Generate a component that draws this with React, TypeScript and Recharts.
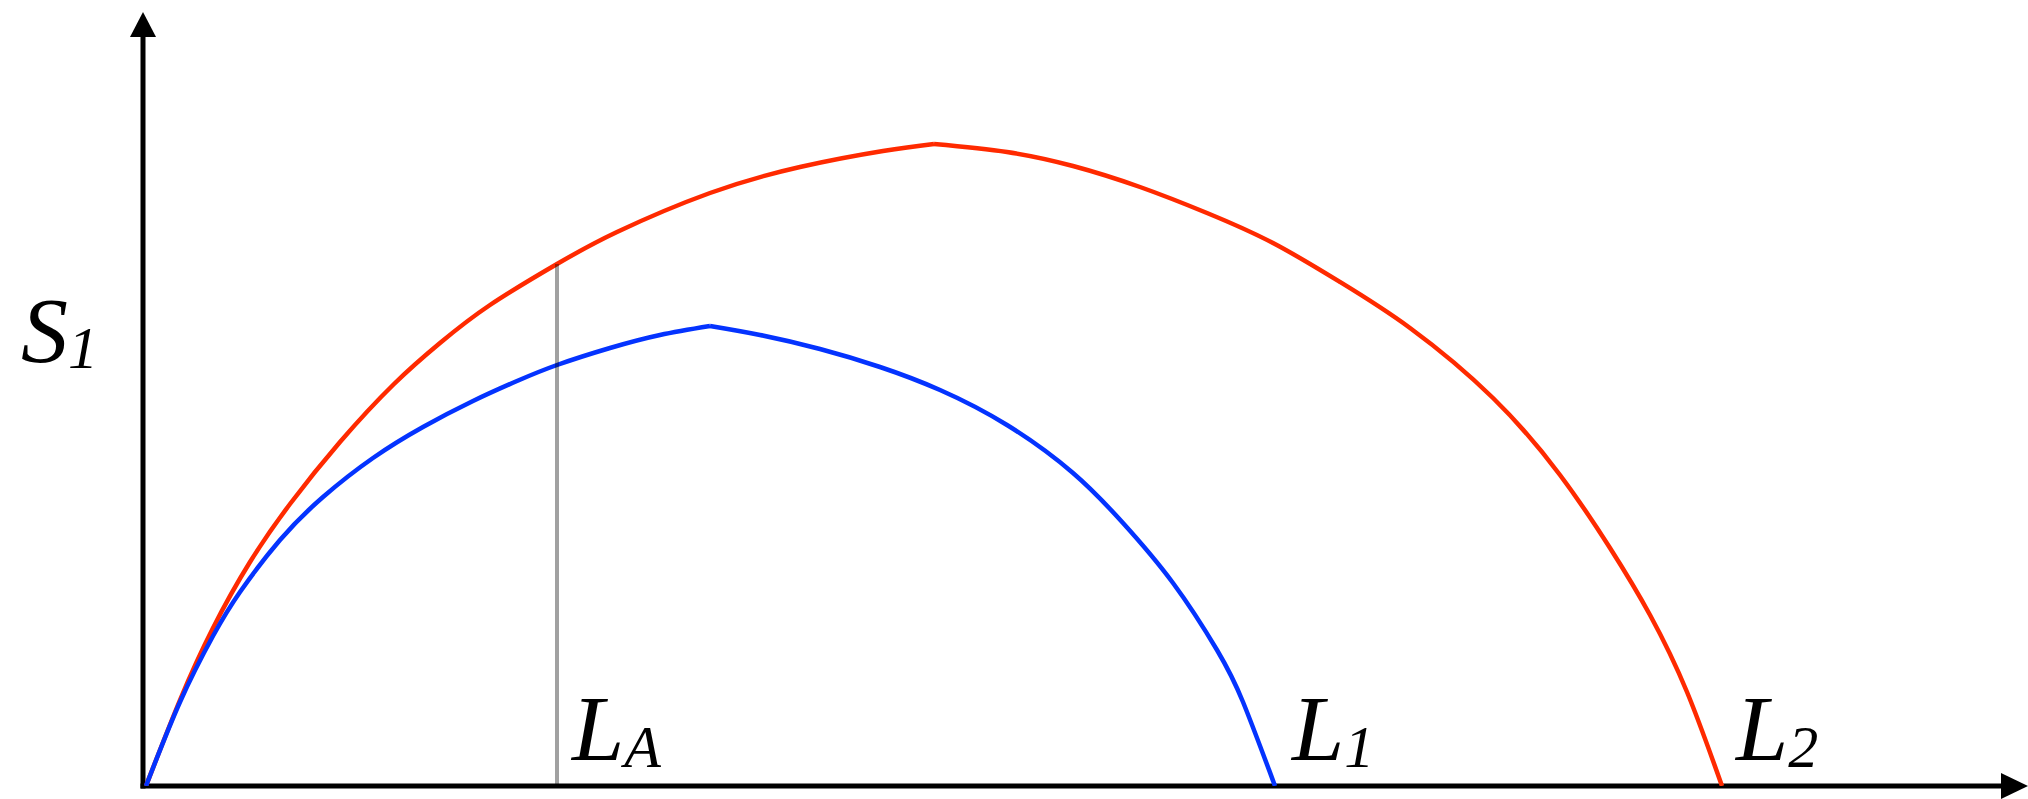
import React from 'react';
import { LineChart, Line, XAxis, YAxis, ReferenceLine, ReferenceDot } from 'recharts';

type Pt = { x: number; y: number };
const pts = (arr: number[][]): Pt[] => arr.map(([x, y]) => ({ x, y }));

// S1 against L; each curve is split at its peak so the top keeps its corner
const redRise = pts([
  [0.3, 0], [3.7, 8.6], [7.0, 15.8], [10.7, 22.4], [14.7, 28.2], [19.7, 34.4], [25.1, 40.2],
  [29.7, 44.3], [34.7, 48.1], [41.4, 52.2], [47.4, 55.4], [56.7, 59.3], [65.7, 61.9], [74.0, 63.5], [79.1, 64.2],
]);
const redFall = pts([
  [79.1, 64.2], [86.4, 63.4], [93.0, 62.0], [99.7, 59.9], [106.4, 57.3], [113.0, 54.3], [119.7, 50.4],
  [126.7, 45.8], [135.0, 38.8], [141.7, 31.1], [146.7, 23.8], [150.7, 17.1], [154.4, 9.4], [157.9, 0],
]);
const blueRise = pts([
  [0.3, 0], [3.7, 8.4], [7.0, 15.0], [9.7, 19.4], [13.7, 24.6], [18.0, 28.9], [23.0, 32.8],
  [28.0, 35.9], [33.0, 38.5], [37.4, 40.5], [41.4, 42.1], [46.7, 43.8], [51.7, 45.1], [56.7, 46.0],
]);
const blueFall = pts([
  [56.7, 46.0], [61.7, 45.1], [67.7, 43.7], [73.7, 41.9], [79.7, 39.6], [86.4, 36.1], [93.0, 31.3],
  [98.0, 26.3], [103.0, 20.3], [107.4, 13.6], [110.0, 8.4], [113.2, 0],
]);

const LA = 41.4;
const LA_S1 = 52.2;
const L1 = 113.2;
const L2 = 157.9;
const X_MAX = 185.9;
const Y_MAX = 75;

const RED = '#ff2a00';
const BLUE = '#0433ff';
const FONT = '"Liberation Serif", "Times New Roman", serif';

const Label = (main: string, sub: string, dx: number, dy: number, subDy = 7) => (props: any) => (
  <text x={props.cx + dx} y={props.cy + dy} fontFamily={FONT} fontStyle="italic" fontSize={94} fill="#000">
    {main}
    <tspan fontSize={60} dy={subDy}>{sub}</tspan>
  </text>
);

const curve = (data: Pt[], color: string) => (
  <Line data={data} dataKey="y" type="natural" stroke={color} strokeWidth={4.5} dot={false} isAnimationActive={false} />
);

export default function App() {
  return (
    <div style={{ position: 'absolute', left: 0, top: 0, width: 2028, height: 799, background: '#fff', overflow: 'hidden' }}>
      <LineChart width={2028} height={799} margin={{ top: 36, right: 26, bottom: 13, left: 143 }}>
        <XAxis type="number" dataKey="x" domain={[0, X_MAX]} allowDataOverflow hide />
        <YAxis type="number" domain={[0, Y_MAX]} allowDataOverflow hide />
        {/* axes */}
        <ReferenceLine y={0} stroke="#000" strokeWidth={5} strokeLinecap="square" ifOverflow="visible" />
        <ReferenceLine x={0} stroke="#000" strokeWidth={5} strokeLinecap="square" ifOverflow="visible" />
        {curve(redRise, RED)}
        {curve(redFall, RED)}
        {curve(blueRise, BLUE)}
        {curve(blueFall, BLUE)}
        <ReferenceLine
          segment={[{ x: LA, y: 0 }, { x: LA, y: LA_S1 }]}
          stroke="rgba(0,0,0,0.37)"
          strokeWidth={4}
          ifOverflow="visible"
        />
        {/* axis arrowheads */}
        <ReferenceDot
          x={0}
          y={Y_MAX}
          r={0}
          ifOverflow="visible"
          shape={(p: any) => <polygon points={`${p.cx},${p.cy - 24} ${p.cx - 13},${p.cy + 1} ${p.cx + 13},${p.cy + 1}`} fill="#000" />}
        />
        <ReferenceDot
          x={X_MAX}
          y={0}
          r={0}
          ifOverflow="visible"
          shape={(p: any) => <polygon points={`${p.cx + 26},${p.cy} ${p.cx - 1},${p.cy - 13} ${p.cx - 1},${p.cy + 13}`} fill="#000" />}
        />
        <ReferenceDot x={0} y={42} r={0} ifOverflow="visible" shape={Label('S', '1', -122, -4, 6)} />
        <ReferenceDot x={LA} y={0} r={0} ifOverflow="visible" shape={Label('L', 'A', 15, -26)} />
        <ReferenceDot x={L1} y={0} r={0} ifOverflow="visible" shape={Label('L', '1', 17, -26)} />
        <ReferenceDot x={L2} y={0} r={0} ifOverflow="visible" shape={Label('L', '2', 14, -26)} />
      </LineChart>
    </div>
  );
}
